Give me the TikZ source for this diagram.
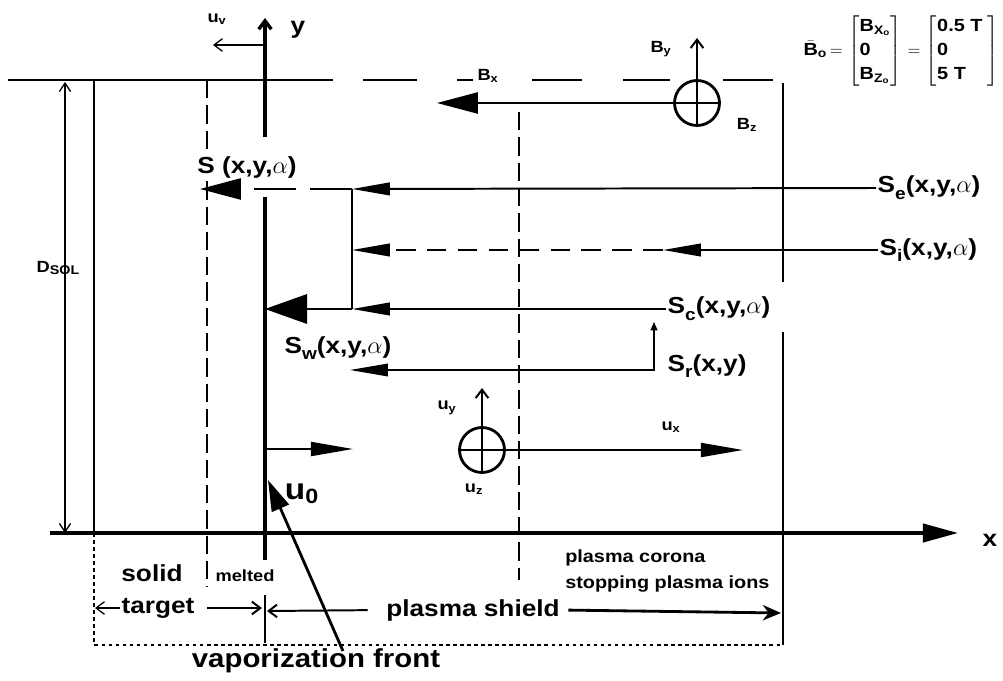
\documentclass[tikz,border=0pt]{standalone}
\usepackage{amsmath}
\usepackage{fontspec}
\setmainfont{Liberation Sans}[FakeStretch=1.13]
\usetikzlibrary{arrows.meta,positioning}
\newcommand{\lsub}[1]{\raisebox{-0.55ex}{\fontsize{12}{12}\selectfont#1}}
\tikzset{
  axisline/.style  ={line width=2.4pt},
  frameline/.style ={line width=0.9pt},
  fluxline/.style  ={line width=1.4pt},
  cutline/.style   ={line width=1.1pt, dash pattern=on 13pt off 5pt},
  fluxdash/.style  ={line width=1.4pt, dash pattern=on 14pt off 8pt},
  dotline/.style   ={line width=0.8pt, dash pattern=on 2.5pt off 2.5pt},
  bigtip/.style    ={-{Triangle[length=29pt,width=15pt]}},
  fattip/.style    ={-{Triangle[length=30pt,width=21pt]}},
  midtip/.style    ={-{Triangle[length=27pt,width=9pt]}},
  longtip/.style   ={-{Triangle[length=30pt,width=10pt]}},
  barbtip/.style   ={-{Straight Barb[length=6pt,width=9pt]}},
  crosscirc/.style ={circle, draw, line width=2pt, minimum size=32pt, inner sep=0pt},
  biglbl/.style    ={font=\fontsize{16.5}{20}\selectfont\bfseries, inner sep=1pt},
  smalllbl/.style  ={font=\fontsize{11.5}{14}\selectfont\bfseries, inner sep=1pt},
}

\begin{document}
\begin{tikzpicture}[x=0.025cm,y=-0.025cm]
  \useasboundingbox (0,0) rectangle (1003,681);
  % fixed points of the sketch
  \coordinate (xstart) at (50,533);   \coordinate (xend) at (958,533);
  \coordinate (yfoot) at (265,560);   \coordinate (ycut) at (265,197);
  \coordinate (yresume) at (265,137); \coordinate (ytop) at (265,18);
  \coordinate (uvbase) at (265,45);   \coordinate (uvtip) at (213,45);
  \coordinate (topleft) at (8,80);    \coordinate (topcut) at (333,80);
  \coordinate (backtop) at (94,80);   \coordinate (backbot) at (94,533);
  \coordinate (melttop) at (207,80);  \coordinate (meltbot) at (207,587);
  \coordinate (coronatop) at (519,112); \coordinate (coronabot) at (519,580);
  \coordinate (rtop) at (783,83);     \coordinate (rgap1) at (783,282);
  \coordinate (rgap2) at (783,332);   \coordinate (rbot) at (783,645);
  \coordinate (boxbl) at (94,645);
  \coordinate (dtop) at (65,82);      \coordinate (dbot) at (65,533);
  \coordinate (jn) at (352,189);      \coordinate (ji) at (352,250);
  \coordinate (jc) at (352,309);      \coordinate (stip) at (200,189);
  \coordinate (wall) at (265,309);    \coordinate (ibreak) at (663,250);
  \coordinate (rturn) at (654,370);   \coordinate (rtip) at (654,322);
  \coordinate (rend) at (350,370);
  \coordinate (u0base) at (265,449);  \coordinate (u0tip) at (353,449);
  \coordinate (vfoot) at (343,651);   \coordinate (vtip) at (268,480);
  \coordinate (bytip) at (697,38);    \coordinate (bxtip) at (437,103);
  \coordinate (uytip) at (482,388);   \coordinate (uxtip) at (743,450);
  \coordinate (tick1) at (265,595);   \coordinate (tick2) at (265,643);
  \coordinate (tgtL) at (95,608);     \coordinate (tgtR) at (262,608);
  \coordinate (shL) at (267,611);     \coordinate (shR) at (781,613);

  % frame of the target and the plasma
  \draw[frameline] (topleft) -- (topcut);
  \foreach \a/\b in {363/417,457/473,532/582,623/670,723/773}
    \draw[frameline] (\a,80) -- (\b,80);
  \draw[frameline] (backtop) -- (backbot);
  \draw[cutline] (melttop) -- (meltbot);
  \draw[cutline] (coronatop) -- (coronabot);
  \draw[frameline] (rtop) -- (rgap1);
  \draw[frameline] (rgap2) -- (rbot);
  \draw[dotline] (backbot) -- (boxbl) -- (rbot);

  \node[smalllbl,fill=white] (dsol) at (58,268)
    {D{\fontsize{9}{10}\selectfont\raisebox{-2pt}{SOL}}};
  \draw[frameline,{Straight Barb[length=6pt,width=8pt]}-{Straight Barb[length=6pt,width=8pt]}] (dtop) -- (dbot);

  % axes
  \draw[axisline,-{Triangle[length=25pt,width=13pt]}] (xstart) -- (xend);
  \draw[axisline] (yfoot) -- (ycut);
  \draw[axisline,barbtip] (yresume) -- (ytop);
  \node[biglbl] (xlbl) at (990,540) {x};
  \node[biglbl] (ylbl) at (298,30) {y};
  \draw[frameline,barbtip] (uvbase) -- (uvtip);
  \node[smalllbl] (uvlbl) at (217,19) {u\textsubscript{v}};

  % magnetic field
  \node[crosscirc] (bz) at (697,103) {};
  \draw[fluxline] (bz.south) -- (bz.north);
  \draw[fluxline,barbtip] (bz.north) -- (bytip);
  \draw[fluxline,bigtip] (bz.east) -- (bxtip);
  \node[smalllbl] (bxlbl) at (488,76) {B\textsubscript{x}};
  \node[smalllbl] (bylbl) at (661,49) {B\textsubscript{y}};
  \node[smalllbl] (bzlbl) at (747,125) {B\textsubscript{z}};
  \node[font=\fontsize{12.5}{17}\selectfont\bfseries,inner sep=0pt] (beq) at (901,51)
    {$\bar{\text{B}}_{\text{o}}\,{=}\,\left[\begin{tabular}{@{}l@{}}B\textsubscript{X\textsubscript{o}}\\0\\B\textsubscript{Z\textsubscript{o}}\end{tabular}\right]
     \,{=}\,\left[\begin{tabular}{@{}l@{}}0.5 T\\0\\5 T\end{tabular}\;\right]$};

  % energy fluxes
  \node[biglbl,fill=white] (stot) at (247,168) {S (x,y,$\alpha$)};
  \node[biglbl,anchor=west] (se) at (876,188) {S\lsub{e}(x,y,$\alpha$)};
  \node[biglbl,anchor=west] (si) at (878,250) {S\lsub{i}(x,y,$\alpha$)};
  \node[biglbl,anchor=west] (sc) at (666,309) {S\lsub{c}(x,y,$\alpha$)};
  \node[biglbl,anchor=west] (sr) at (666,366) {S\lsub{r}(x,y)};
  \node[biglbl] (sw) at (338,348) {S\lsub{w}(x,y,$\alpha$)};

  \draw[fluxline,midtip] (se.west) -- (jn);
  \draw[fluxline,midtip] (si.west) -- (ibreak);
  \draw[fluxdash,midtip] (ibreak) -- (ji);
  \draw[fluxline,midtip] (sc.west) -- (jc);
  \draw[line width=2pt] (jn) -- (jc);
  \draw[fluxline,fattip] (jc) -- (wall);
  \draw[fluxline,dash pattern=on 30pt off 10pt,bigtip] (jn) -- (stip);
  \draw[frameline,{Triangle[length=27pt,width=9pt]}-{Triangle[length=6pt,width=5pt]}] (rend) -- (rturn) -- (rtip);

  % plasma velocity
  \node[crosscirc] (uz) at (482,450) {};
  \draw[fluxline] (uz.south) -- (uz.north);
  \draw[fluxline,barbtip] (uz.north) -- (uytip);
  \draw[fluxline,longtip] (uz.west) -- (uxtip);
  \node[smalllbl] (uylbl) at (447,408) {u\textsubscript{y}};
  \node[smalllbl] (uzlbl) at (474,489) {u\textsubscript{z}};
  \node[smalllbl] (uxlbl) at (671,427) {u\textsubscript{x}};

  % vaporization front
  \draw[fluxline,longtip] (u0base) -- (u0tip);
  \node[font=\fontsize{21}{24}\selectfont\bfseries,inner sep=1pt] (u0) at (302,494) {u\textsubscript{0}};
  \node[font=\fontsize{18.5}{22}\selectfont\bfseries,inner sep=1pt] (vap) at (316,661) {vaporization front};
  \draw[line width=2pt,-{Triangle[length=22pt,width=13pt]}] (vfoot) -- (vtip);

  % regions below the axis
  \node[biglbl] (solid) at (152,573) {solid};
  \node[smalllbl] (melted) at (245,576) {melted};
  \node[biglbl] (target) at (158,608) {target};
  \draw[frameline,barbtip] (target.west) -- (tgtL);
  \draw[fluxline,barbtip,shorten <=8pt] (target.east) -- (tgtR);
  \draw[fluxline] (tick1) -- (tick2);
  \node[biglbl] (shield) at (473,610) {plasma shield};
  \draw[fluxline,barbtip,shorten <=12pt] (shield.west) -- (shL);
  \draw[line width=2pt,-{Stealth[length=13pt,width=11pt]},shorten <=5pt] (shield.east) -- (shR);
  \node[font=\fontsize{12.5}{19}\selectfont\bfseries,align=left,anchor=north west,inner sep=0pt] (corona) at (565,549)
    {plasma corona\\stopping plasma ions};
\end{tikzpicture}
\end{document}
